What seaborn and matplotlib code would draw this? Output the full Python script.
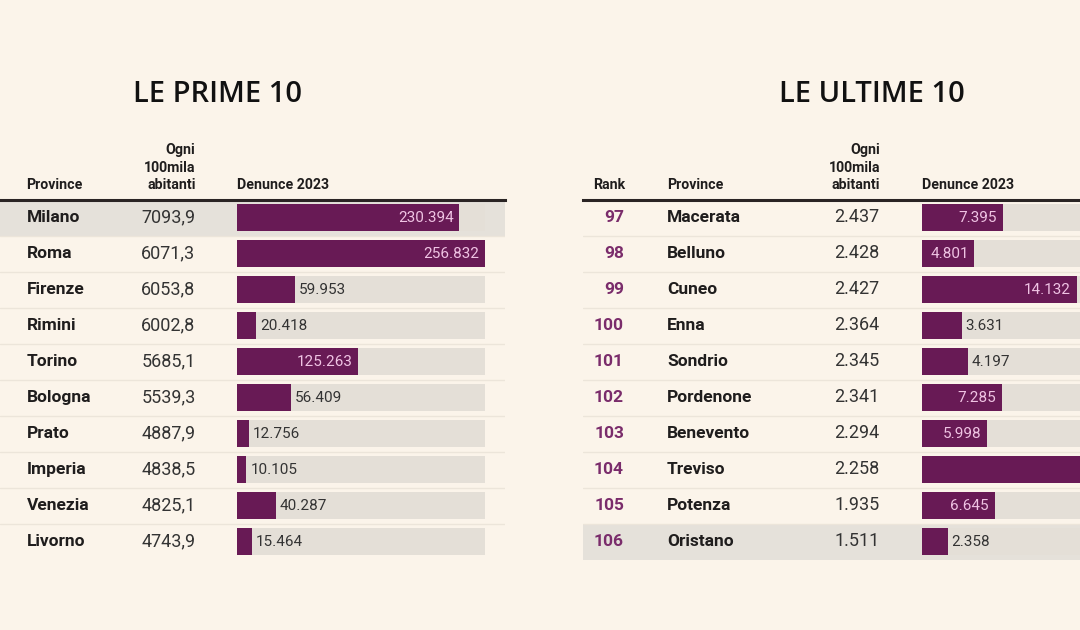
import matplotlib
matplotlib.use("Agg")
import matplotlib.pyplot as plt
import matplotlib.transforms as mtransforms
import seaborn as sns

# ---------------- data ----------------
top_provinces = ["Milano", "Roma", "Firenze", "Rimini", "Torino",
                 "Bologna", "Prato", "Imperia", "Venezia", "Livorno"]
top_rate = [7093.9, 6071.3, 6053.8, 6002.8, 5685.1,
            5539.3, 4887.9, 4838.5, 4825.1, 4743.9]
top_reports = [230394, 256832, 59953, 20418, 125263,
               56409, 12756, 10105, 40287, 15464]

bottom_ranks = [97, 98, 99, 100, 101, 102, 103, 104, 105, 106]
bottom_provinces = ["Macerata", "Belluno", "Cuneo", "Enna", "Sondrio",
                    "Pordenone", "Benevento", "Treviso", "Potenza", "Oristano"]
bottom_rate = [2437, 2428, 2427, 2364, 2345, 2341, 2294, 2258, 1935, 1511]
bottom_reports = [7395, 4801, 14132, 3631, 4197, 7285, 5998, 19800, 6645, 2358]

title_left = "LE PRIME 10"
title_right = "LE ULTIME 10"
hdr_province = "Province"
hdr_rate = "Ogni\n100mila\nabitanti"
hdr_reports = "Denunce 2023"
hdr_rank = "Rank"

# ---------------- style ----------------
BG = "#fbf4ea"
PURPLE = "#681a55"
RANK_PURPLE = "#7a2c6b"
TRACK = "#e4dfd7"
HILITE = "#e5e1da"
SEP = "#ece5da"
PINK = "#efc3e3"
DARK = "#1f1d1d"
MID = "#333333"

sns.set_theme(style="white")
plt.rcParams["font.family"] = ["Roboto", "DejaVu Sans"]

W, H = 1080, 630
fig = plt.figure(figsize=(W / 100, H / 100), dpi=100, facecolor=BG)


def fx(px):
    return px / W


def fy(py):
    return 1 - py / H


ROW_TOP, ROW_BOT = 199.5, 559.5
HDR_FS = 10.2


def it_thousands(v):
    return f"{v:,}".replace(",", ".")


def it_decimal(v):
    return f"{v:.1f}".replace(".", ",")


def make_panel(x0, x1, bar_start, units_per_px, names, reports, highlight,
               inside_threshold):
    ax = fig.add_axes([fx(x0), fy(ROW_BOT), fx(x1) - fx(x0),
                       fy(ROW_TOP) - fy(ROW_BOT)])
    ax.set_facecolor("none")
    ax.axhspan(highlight - 0.5, highlight + 0.5, color=HILITE, zorder=0, lw=0)
    for k in range(len(names) - 1):
        ax.axhline(k + 0.5, color=SEP, lw=1.0, zorder=0.5)
    track = [max(reports)] * len(names)
    sns.barplot(x=track, y=names, orient="h", color=TRACK, width=0.75,
                saturation=1, ax=ax, zorder=1, linewidth=0, edgecolor="none")
    sns.barplot(x=reports, y=names, orient="h", color=PURPLE, width=0.75,
                saturation=1, ax=ax, zorder=2, linewidth=0, edgecolor="none")
    ax.set_xlim(-(bar_start - x0) * units_per_px, (x1 - bar_start) * units_per_px)
    ax.set_ylim(len(names) - 0.5, -0.5)
    ax.set_xticks([])
    ax.set_yticks([])
    ax.set_xlabel("")
    ax.set_ylabel("")
    for s in ["left", "right", "bottom"]:
        ax.spines[s].set_visible(False)
    ax.spines["top"].set_visible(True)
    ax.spines["top"].set_color("#2a2424")
    ax.spines["top"].set_linewidth(2.2)
    for i, v in enumerate(reports):
        lab = it_thousands(v)
        if v > inside_threshold:
            ax.annotate(lab, xy=(v, i), xytext=(-4, 0), textcoords="offset points",
                        ha="right", va="center", fontsize=11, color=PINK,
                        zorder=3, annotation_clip=True, clip_on=True)
        else:
            ax.annotate(lab, xy=(v, i), xytext=(3, 0), textcoords="offset points",
                        ha="left", va="center", fontsize=11, color=MID, zorder=3)
    return ax


def header(x, text, ha):
    fig.text(fx(x), fy(189), text, ha=ha, va="baseline", fontsize=HDR_FS,
             fontweight="bold", color=DARK, linespacing=1.3,
             multialignment=ha)


def title(x, text):
    fig.text(fx(x), fy(94), text, ha="center", va="center", fontsize=21,
             fontweight="semibold", color="#111111",
             family=["Open Sans", "DejaVu Sans"])


# ---------------- left panel ----------------
axL = make_panel(0, 505, 236.6, 1034.5, top_provinces, top_reports, 0, 100000)
trL = mtransforms.blended_transform_factory(fig.transFigure, axL.transData)
for i, (n, r) in enumerate(zip(top_provinces, top_rate)):
    axL.text(fx(26.5), i, n, transform=trL, ha="left", va="center",
             fontsize=12.5, fontweight="bold", color=DARK)
    axL.text(fx(195.5), i, it_decimal(r), transform=trL, ha="right",
             va="center", fontsize=13, color=MID)

title(217.5, title_left)
header(26.5, hdr_province, "left")
header(195.5, hdr_rate, "right")
header(236.6, hdr_reports, "left")

# ---------------- right panel ----------------
axR = make_panel(583, 1080, 921.7, 91.2, bottom_provinces, bottom_reports, 9, 4500)
trR = mtransforms.blended_transform_factory(fig.transFigure, axR.transData)
for i, (rk, n, r) in enumerate(zip(bottom_ranks, bottom_provinces, bottom_rate)):
    axR.text(fx(624), i, str(rk), transform=trR, ha="right", va="center",
             fontsize=12.5, fontweight="bold", color=RANK_PURPLE)
    axR.text(fx(667), i, n, transform=trR, ha="left", va="center",
             fontsize=12.5, fontweight="bold", color=DARK)
    axR.text(fx(879.5), i, it_thousands(r), transform=trR, ha="right",
             va="center", fontsize=13, color=MID)

title(871.5, title_right)
header(625, hdr_rank, "right")
header(667, hdr_province, "left")
header(880, hdr_rate, "right")
header(921.7, hdr_reports, "left")

fig.savefig("out.png", dpi=100, facecolor=BG)
